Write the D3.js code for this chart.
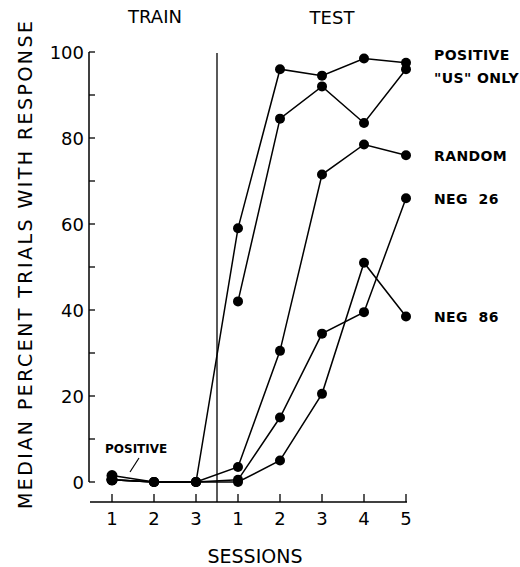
<!DOCTYPE html>
<html>
<head>
<meta charset="utf-8">
<script src="https://cdn.jsdelivr.net/npm/d3@7"></script>
<style>
  body { margin: 0; background: #fff; }
  text { font-family: "DejaVu Sans", sans-serif; fill: #000; }
</style>
</head>
<body>
<div id="chart"></div>
<script>
// session labels: 3 training + 5 test sessions
var sessionLabels = ["1", "2", "3", "1", "2", "3", "4", "5"];
var yTicks = [0, 20, 40, 60, 80, 100];

// median percent trials with response
var positive = [1.5, 0, 0, 59, 96, 94.5, 98.5, 97.5];
var usOnly = [null, null, null, 42, 84.5, 92, 83.5, 96];
var random = [0.5, 0, 0, 3.5, 30.5, 71.5, 78.5, 76];
var neg26 = [0.5, 0, 0, 0.5, 15, 34.5, 39.5, 66];
var neg86 = [0.5, 0, 0, 0, 5, 20.5, 51, 38.5];

var seriesNames = ["POSITIVE", "\"US\" ONLY", "RANDOM", "NEG  26", "NEG  86"];
var seriesValues = [positive, usOnly, random, neg26, neg86];

var svgWidth = 520;
var svgHeight = 567;

var svg = d3.select("#chart")
    .append("svg")
    .attr("width", svgWidth)
    .attr("height", svgHeight);

var x = d3.scaleLinear()
    .domain([0, 7])
    .range([112, 406]);

var y = d3.scaleLinear()
    .domain([0, 100])
    .range([482, 52]);

// y axis: line with inward ticks
var yAxis = svg.append("g");
yAxis.append("line")
    .attr("x1", 89).attr("x2", 89)
    .attr("y1", y(100)).attr("y2", y(0))
    .attr("stroke", "#000").attr("stroke-width", 1.5);
yAxis.selectAll(".tick")
    .data(d3.range(0, 101, 10))
    .enter().append("line")
    .attr("x1", 89).attr("x2", 95)
    .attr("y1", d => y(d)).attr("y2", d => y(d))
    .attr("stroke", "#000").attr("stroke-width", 1.3);
yAxis.selectAll("text")
    .data(yTicks)
    .enter().append("text")
    .attr("x", 84)
    .attr("y", d => y(d) + 6.5)
    .attr("text-anchor", "end")
    .attr("font-size", 18)
    .text(d => d);

// x axis: baseline with upward ticks
var xAxis = svg.append("g");
xAxis.append("line")
    .attr("x1", 90).attr("x2", x(7) + 1)
    .attr("y1", 502).attr("y2", 502)
    .attr("stroke", "#000").attr("stroke-width", 1.5);
xAxis.selectAll(".tick")
    .data(sessionLabels)
    .enter().append("line")
    .attr("x1", (d, i) => x(i)).attr("x2", (d, i) => x(i))
    .attr("y1", 502).attr("y2", 494)
    .attr("stroke", "#000").attr("stroke-width", 1.3);
xAxis.selectAll("text")
    .data(sessionLabels)
    .enter().append("text")
    .attr("x", (d, i) => x(i))
    .attr("y", 525)
    .attr("text-anchor", "middle")
    .attr("font-size", 18)
    .text(d => d);

// train / test divider
svg.append("line")
    .attr("x1", x(2.5)).attr("x2", x(2.5))
    .attr("y1", y(100) + 1).attr("y2", 502)
    .attr("stroke", "#000").attr("stroke-width", 1.3);

svg.append("text")
    .attr("x", 155).attr("y", 23)
    .attr("text-anchor", "middle")
    .attr("font-size", 18)
    .text("TRAIN");
svg.append("text")
    .attr("x", 332).attr("y", 24)
    .attr("text-anchor", "middle")
    .attr("font-size", 18)
    .text("TEST");

svg.append("text")
    .attr("x", 255).attr("y", 563)
    .attr("text-anchor", "middle")
    .attr("font-size", 19)
    .text("SESSIONS");

svg.append("text")
    .attr("transform", "translate(32, 265) rotate(-90)")
    .attr("text-anchor", "middle")
    .attr("font-size", 19)
    .attr("textLength", 488)
    .attr("lengthAdjust", "spacing")
    .text("MEDIAN PERCENT TRIALS WITH RESPONSE");

// lines + dots
var line = d3.line()
    .defined(d => d != null)
    .x((d, i) => x(i))
    .y(d => y(d));

seriesValues.forEach(function(vals) {
    svg.append("path")
        .datum(vals)
        .attr("d", line)
        .attr("fill", "none")
        .attr("stroke", "#000")
        .attr("stroke-width", 1.5);
    svg.selectAll(null)
        .data(vals.map((v, i) => ({ v: v, i: i })).filter(d => d.v != null))
        .enter().append("circle")
        .attr("cx", d => x(d.i))
        .attr("cy", d => y(d.v))
        .attr("r", d => d.i === 0 ? 5.5 : 5)
        .attr("fill", "#000");
});

// series labels at right
var labelNudge = [-8, 8, 0, 0, 0];
svg.selectAll(".slabel")
    .data(seriesNames)
    .enter().append("text")
    .attr("x", 434)
    .attr("y", (d, i) => y(seriesValues[i][7]) + labelNudge[i] + 5.5)
    .attr("font-size", 14)
    .attr("font-weight", "bold")
    .attr("letter-spacing", 0.4)
    .style("white-space", "pre")
    .text(d => d);

// small annotation for training positive
svg.append("text")
    .attr("x", 105).attr("y", 453)
    .attr("font-size", 12)
    .attr("font-weight", "bold")
    .text("POSITIVE");
svg.append("line")
    .attr("x1", 139).attr("y1", 458)
    .attr("x2", 130).attr("y2", 472)
    .attr("stroke", "#000").attr("stroke-width", 1.2);
</script>
</body>
</html>
